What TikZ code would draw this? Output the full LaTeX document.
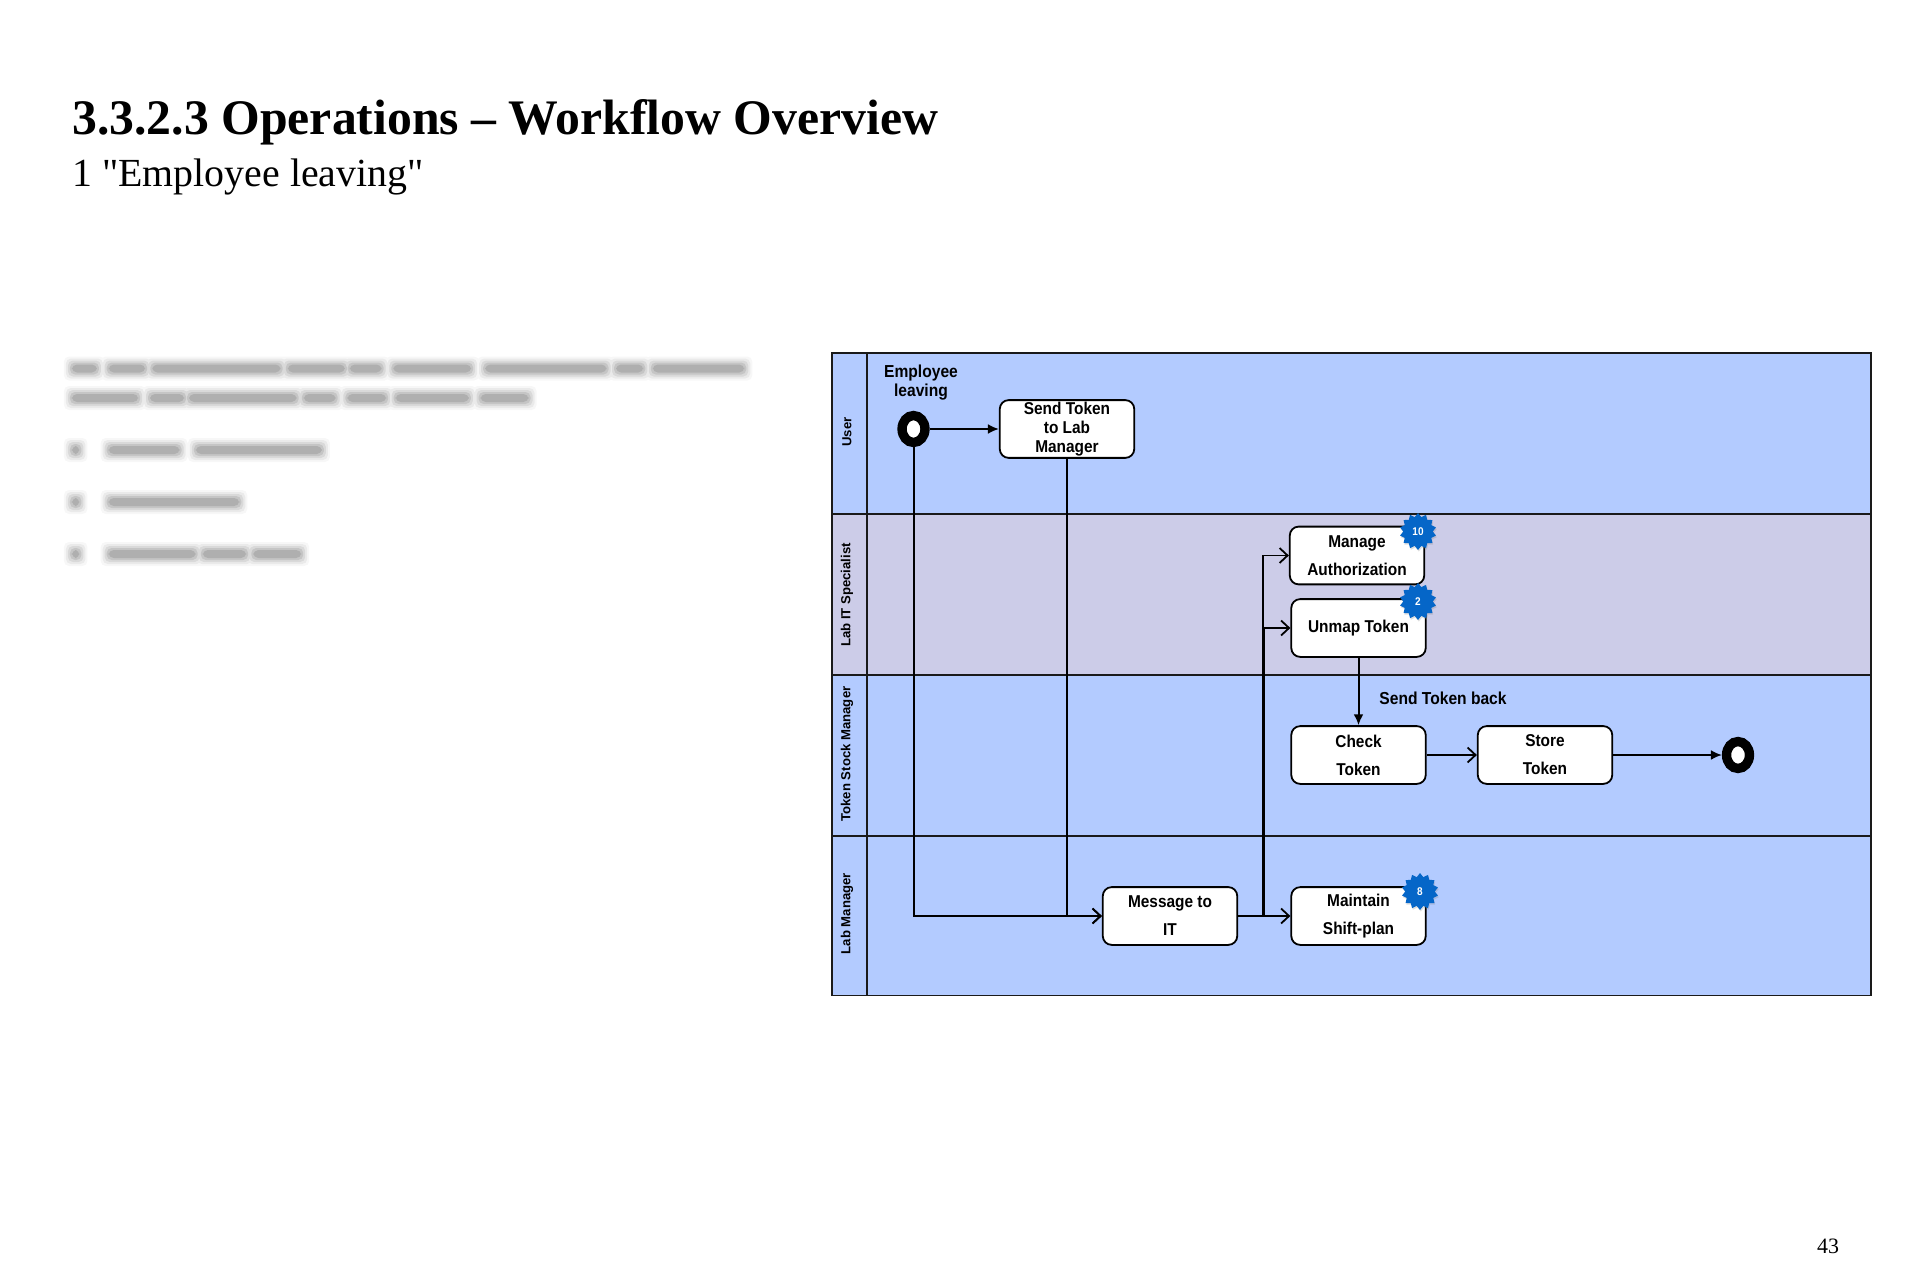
\documentclass[tikz,border=0pt]{standalone}
\usepackage{fontspec}
\setmainfont{Liberation Serif}
\newfontfamily\plainserif{Liberation Serif}
\newfontfamily\diafont{Liberation Sans}[FakeStretch=0.9]
\newfontfamily\lanefont{Liberation Sans}
\usetikzlibrary{arrows.meta,shapes.geometric,shadows}
\definecolor{laneblue}{HTML}{B3CBFF}
\definecolor{lanelilac}{HTML}{CCCCE8}
\definecolor{badgeblue}{HTML}{0566C8}
\definecolor{linec}{HTML}{1A1A1A}
% #1: y of a blurred line; #2: list of word start/end, on the scale of a crop from x=50 at 2.178x
\newcommand{\blurline}[2]{%
  \foreach \g/\o in {9/0.03,7/0.05,5/0.07,3/0.09,1/0.11}{%
    \fill[black,opacity=\o,rounded corners=2.5pt]
      foreach \a/\b in {#2}{({50+\a/2.178-\g},#1-3-\g) rectangle ({50+\b/2.178+\g},#1+3+\g)};}}
\tikzset{
  x=0.5bp,y=-0.5bp,
  lane/.style={draw=linec,line width=0.8pt},
  task/.style={draw=black,fill=white,rounded corners=4.5pt,line width=0.9pt,minimum width=67.5pt,minimum height=29pt,inner sep=0pt,align=center,font=\diafont\bfseries\fontsize{8.6}{9.7}\selectfont},
  taskwide/.style={task,font=\diafont\bfseries\fontsize{8.6}{14}\selectfont},
  event/.style={ellipse,draw=black,fill=white,line width=4.7pt,minimum width=11.5pt,minimum height=13.5pt,inner sep=0pt},
  flow/.style={draw=black,line width=1pt},
  solidtip/.style={flow,-{Latex[length=5.5pt,width=5pt]}},
  opentip/.style={flow,-{Straight Barb[length=4pt,width=7.5pt,line width=0.9pt]}},
  lanetext/.style={rotate=90,font=\lanefont\bfseries\fontsize{6.6}{7}\selectfont,inner sep=0pt},
  flowtext/.style={font=\diafont\bfseries\fontsize{8.7}{9.5}\selectfont,align=center,inner sep=0pt},
  badge/.style={star,star points=14,star point ratio=1.25,fill=badgeblue,minimum size=18.5pt,inner sep=0pt,text=white,font=\diafont\bfseries\fontsize{5.6}{5.6}\selectfont,drop shadow={opacity=0.25,shadow xshift=0.4pt,shadow yshift=-0.8pt}},
}
\begin{document}
\begin{tikzpicture}
\useasboundingbox (0,0) rectangle (1920,1280);
\fill[white] (0,0) rectangle (1920,1280);
% heading
\node[anchor=west,inner sep=0pt,font=\bfseries\fontsize{24.95}{30}\selectfont] (title) at (72,122.5) {3.3.2.3 Operations – Workflow Overview};
\node[anchor=west,inner sep=0pt,font=\plainserif\fontsize{20}{24}\selectfont] (subtitle) at (72,176.5) {1 "Employee leaving"};
\node[inner sep=0pt,font=\fontsize{11}{13}\selectfont] (page) at (1828,1246.5) {43};
% blurred body text
\blurline{368.5}{50/100,130/205,225/500,520/640,655/720,750/915,950/1210,1235/1290,1315/1510}
\blurline{398}{50/190,220/290,305/535,555/620,650/730,755/910,940/1040}
\blurline{450}{50/62,130/280,320/590}
\blurline{502}{50/62,130/410}
\blurline{554}{50/62,130/315,335/425,445/545}
% lanes
\fill[laneblue] (832,353) rectangle (1871,514);
\fill[lanelilac] (832,514) rectangle (1871,675);
\fill[laneblue] (832,675) rectangle (1871,995.5);
\draw[lane] (832,353) rectangle (1871,995.5);
\draw[lane] (867,353) -- (867,995.5);
\draw[lane] (832,514) -- (1871,514);
\draw[lane] (832,675) -- (1871,675);
\draw[lane] (832,836) -- (1871,836);
\node[lanetext] (l1) at (847,432) {User};
\node[lanetext] (l2) at (847,595) {Lab IT Specialist};
\node[lanetext] (l3) at (847,754) {Token Stock Manager};
\node[lanetext] (l4) at (847,913.5) {Lab Manager};
% nodes
\node[event] (start) at (913.5,429) {};
\node[flowtext] (startlabel) at (921,382.5) {Employee\\leaving};
\node[task] (send) at (1067,429) {Send Token\\to Lab\\Manager};
\node[taskwide] (manage) at (1357,555.5) {Manage\\Authorization};
\node[task] (unmap) at (1358.5,628) {Unmap Token};
\node[taskwide] (check) at (1358.5,755) {Check\\Token};
\node[taskwide] (store) at (1545,755) {Store\\Token};
\node[event] (finish) at (1738,755) {};
\node[taskwide] (msg) at (1170,916) {Message to\\IT};
\node[taskwide] (maintain) at (1358.5,916) {Maintain\\Shift-plan};
\coordinate (trunk) at (1263,916);
\coordinate (trunkmid) at (1263,628);
\node[flowtext] (backlabel) at (1443,698) {Send Token back};
% connectors
\draw[solidtip] (start) -- (send);
\draw[opentip] (start.south) |- (msg.west);
\draw[opentip] (send.south) |- (msg.west);
\draw[opentip,line width=1.3pt] (msg.east) -- (maintain.west);
\draw[opentip] (trunkmid) |- (manage.west);
\draw[opentip] (trunkmid) -- (unmap.west);
\draw[flow,line width=1.5pt] (trunk) -- (trunkmid);
\draw[solidtip] (unmap.south) -- (check.north);
\draw[opentip] (check.east) -- (store.west);
\draw[solidtip] (store.east) -- (finish.west);
% badges
\node[badge] (b10) at (1418,531.5) {10};
\node[badge] (b2) at (1418,601.5) {2};
\node[badge] (b8) at (1420,891.5) {8};
\end{tikzpicture}
\end{document}
